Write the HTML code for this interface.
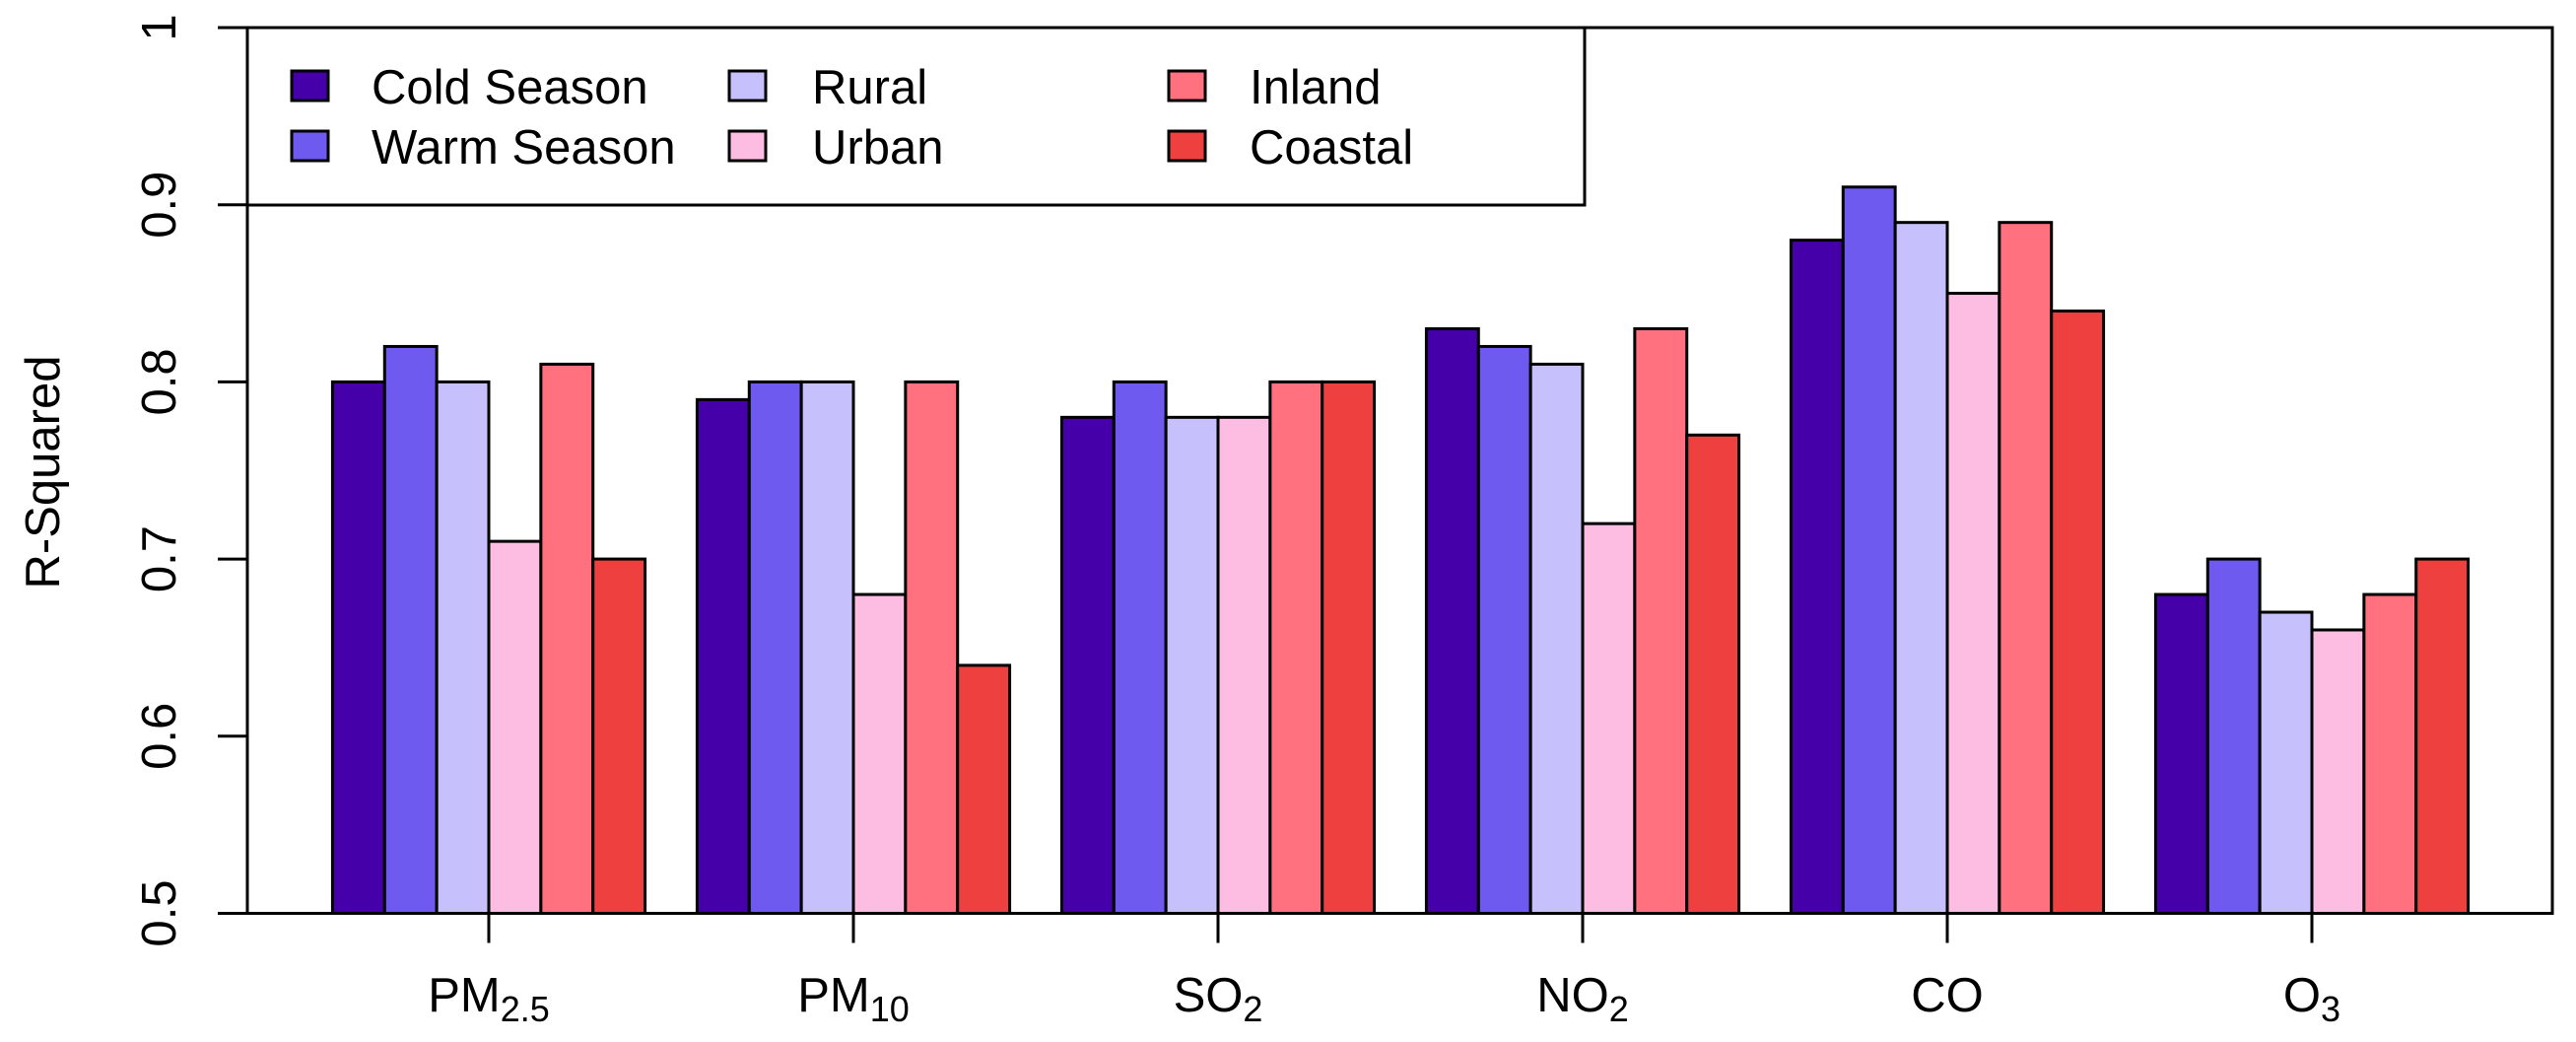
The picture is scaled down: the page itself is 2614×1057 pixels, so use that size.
<!DOCTYPE html>
<html><head><meta charset="utf-8"><style>
html,body{margin:0;padding:0;background:#fff;}
svg{display:block;font-family:"Liberation Sans",Arial,sans-serif;}
</style></head><body>
<svg id="chart" width="2614" height="1057" viewBox="0 0 2614 1057"></svg>
<script>
const categories = ["PM", "PM", "SO", "NO", "CO", "O"];
const subscripts = ["2.5", "10", "2", "2", "", "3"];
const seriesNames = ["Cold Season", "Warm Season", "Rural", "Urban", "Inland", "Coastal"];
const coldSeason = [0.80, 0.79, 0.78, 0.83, 0.88, 0.68];
const warmSeason = [0.82, 0.80, 0.80, 0.82, 0.91, 0.70];
const rural = [0.80, 0.80, 0.78, 0.81, 0.89, 0.67];
const urban = [0.71, 0.68, 0.78, 0.72, 0.85, 0.66];
const inland = [0.81, 0.80, 0.80, 0.83, 0.89, 0.68];
const coastal = [0.70, 0.64, 0.80, 0.77, 0.84, 0.70];
const yTicks = [0.5, 0.6, 0.7, 0.8, 0.9, 1.0];
const yTickLabels = ["0.5", "0.6", "0.7", "0.8", "0.9", "1"];

const series = [coldSeason, warmSeason, rural, urban, inland, coastal];
const colors = ["#4600aa", "#6e5aee", "#c6c0fc", "#fdbde3", "#ff717f", "#ef4040"];
const NS = "http://www.w3.org/2000/svg";
const svg = document.getElementById("chart");
const plotL = 251, plotR = 2590, plotT = 28, plotB = 926.5;
const yMin = 0.5, yMax = 1.0;
const y = v => plotB - (v - yMin) / (yMax - yMin) * (plotB - plotT);
const groupStart = 496, groupStep = 370, barW = 370 / 7;
const xCenter = i => groupStart + i * groupStep;
function mk(tag, attrs, parent) {
  const e = document.createElementNS(NS, tag);
  for (const k in attrs) e.setAttribute(k, attrs[k]);
  (parent || svg).appendChild(e);
  return e;
}
// bars
const barsG = mk("g", {});


categories.forEach((c, i) => {
  series.forEach((s, j) => {
    const x0 = xCenter(i) - 3 * barW + j * barW;
    const r = mk("rect", {x: x0, y: y(s[i]), width: barW, height: plotB - y(s[i]), fill: colors[j], stroke: "#000", "stroke-width": 3}, barsG);
    
    
  });
});
// plot frame
const frame = mk("rect", {x: plotL, y: plotT, width: plotR - plotL, height: plotB - plotT, fill: "none", stroke: "#000", "stroke-width": 3});


// y axis
const yAxis = mk("g", {});


mk("line", {x1: plotL - 30, x2: plotL - 30, y1: y(yMin), y2: y(yMax), stroke: "#000", "stroke-width": 0}, yAxis);
yTicks.forEach((t, k) => {
  const l = mk("line", {x1: plotL - 30, x2: plotL, y1: y(t), y2: y(t), stroke: "#000", "stroke-width": 3}, yAxis);
  
  
  const tx = mk("text", {x: 0, y: 0, transform: `translate(178,${y(t)}) rotate(-90)`, "text-anchor": "middle", "font-size": 49}, yAxis);
  tx.textContent = yTickLabels[k];
  
  
});
const yt = mk("text", {transform: "translate(60,479) rotate(-90)", "text-anchor": "middle", "font-size": 49});
yt.textContent = "R-Squared";


// x axis
categories.forEach((c, i) => {
  const l = mk("line", {x1: xCenter(i), x2: xCenter(i), y1: plotB, y2: plotB + 30, stroke: "#000", "stroke-width": 3});
  
  
  const t = mk("text", {x: xCenter(i), y: 1026, "text-anchor": "middle", "font-size": 49});
  
  
  const a = mk("tspan", {}, t); a.textContent = c;
  if (subscripts[i]) { const b = mk("tspan", {"font-size": 36, dy: 10}, t); b.textContent = subscripts[i]; }
});
// legend
const leg = mk("g", {});


mk("rect", {x: plotL, y: plotT, width: 1608 - plotL, height: 208 - plotT, fill: "#fff", stroke: "#000", "stroke-width": 3}, leg);
const colSw = [296, 740, 1186], colTx = [377, 824, 1268], rowY = [72, 133];
seriesNames.forEach((n, j) => {
  const col = Math.floor(j / 2), row = j % 2;
  const g = mk("g", {}, leg);
  
  
  mk("rect", {x: colSw[col], y: rowY[row], width: 37, height: 30, fill: colors[j], stroke: "#000", "stroke-width": 3}, g);
  const t = mk("text", {x: colTx[col], y: rowY[row] + 33, "font-size": 49}, g);
  t.textContent = n;
});
</script>
</body></html>
